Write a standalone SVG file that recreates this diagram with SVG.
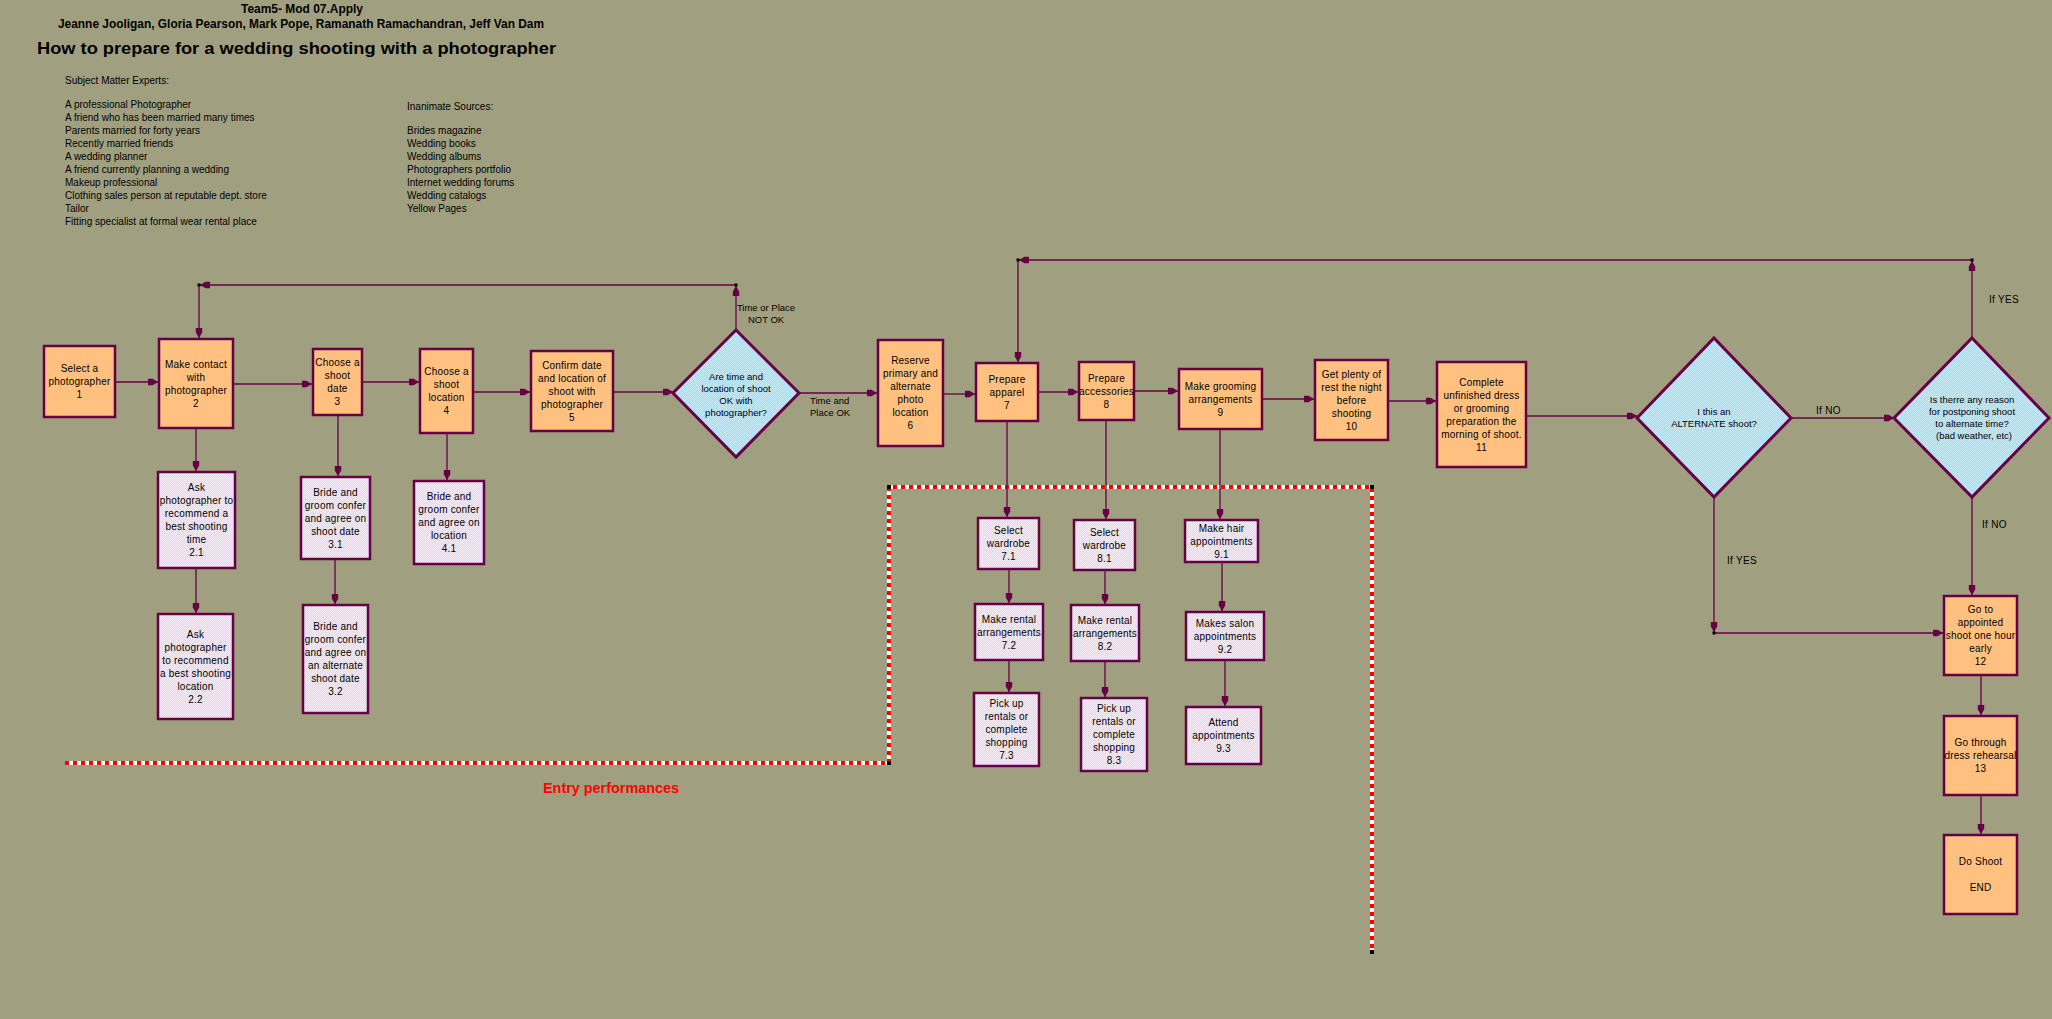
<svg xmlns="http://www.w3.org/2000/svg" width="2052" height="1019" viewBox="0 0 2052 1019">
<style>
text{font-family:"Liberation Sans",Arial,sans-serif;fill:#000}
.hd{font-weight:bold;text-anchor:middle;font-size:12px}
.ttl{font-weight:bold;font-size:17px}
.lst{font-size:10px}
.n rect{fill:#FFC080;stroke:#660044;stroke-width:2.5}
.s rect{fill:url(#lav);stroke:#660044;stroke-width:2.5}
.d polygon{fill:url(#blu);stroke:#660044;stroke-width:3}
.n text,.s text{font-size:10px;text-anchor:middle;letter-spacing:0.2px}
.d text{font-size:9.5px;text-anchor:middle}
.lbl{font-size:9.5px}
.lb2{font-size:10px;letter-spacing:0.3px}
#conn path{stroke:#660044;stroke-width:1.3;fill:none;marker-end:url(#ah)}
.dot{fill:#000}
</style>
<defs>
<marker id="ah" markerUnits="userSpaceOnUse" viewBox="0 -4 10 8" refX="10" refY="0" markerWidth="10" markerHeight="8" orient="auto">
<path d="M0,-3.2 L4.5,-3.2 L10,0 L4.5,3.2 L0,3.2 Z" fill="#660044"/>
</marker>
<pattern id="lav" patternUnits="userSpaceOnUse" width="2" height="2">
<rect width="2" height="2" fill="#E2D0F4"/>
<rect width="1" height="1" fill="#FAF0FF"/>
<rect x="1" y="1" width="1" height="1" fill="#FAF0FF"/>
</pattern>
<pattern id="blu" patternUnits="userSpaceOnUse" width="2" height="2">
<rect width="2" height="2" fill="#A0D8F4"/>
<rect width="1" height="1" fill="#C8EEFF"/>
<rect x="1" y="1" width="1" height="1" fill="#C8EEFF"/>
</pattern>
</defs>
<rect width="2052" height="1019" fill="#A0A080"/>

<g id="header">
<text class="hd" x="302" y="13" textLength="122" lengthAdjust="spacingAndGlyphs">Team5- Mod 07.Apply</text>
<text class="hd" x="301" y="28" textLength="486" lengthAdjust="spacingAndGlyphs">Jeanne Jooligan, Gloria Pearson, Mark Pope, Ramanath Ramachandran, Jeff Van Dam</text>
<text class="ttl" x="37" y="54" textLength="519" lengthAdjust="spacingAndGlyphs">How to prepare for a wedding shooting with a photographer</text>
<text class="lst" x="65" y="84">Subject Matter Experts:</text>
<text class="lst" x="65" y="108">A professional Photographer</text>
<text class="lst" x="65" y="121">A friend who has been married many times</text>
<text class="lst" x="65" y="134">Parents married for forty years</text>
<text class="lst" x="65" y="147">Recently married friends</text>
<text class="lst" x="65" y="160">A wedding planner</text>
<text class="lst" x="65" y="173">A friend currently planning a wedding</text>
<text class="lst" x="65" y="186">Makeup professional</text>
<text class="lst" x="65" y="199">Clothing sales person at reputable dept. store</text>
<text class="lst" x="65" y="212">Tailor</text>
<text class="lst" x="65" y="225">Fitting specialist at formal wear rental place</text>
<text class="lst" x="407" y="110">Inanimate Sources:</text>
<text class="lst" x="407" y="134">Brides magazine</text>
<text class="lst" x="407" y="147">Wedding books</text>
<text class="lst" x="407" y="160">Wedding albums</text>
<text class="lst" x="407" y="173">Photographers portfolio</text>
<text class="lst" x="407" y="186">Internet wedding forums</text>
<text class="lst" x="407" y="199">Wedding catalogs</text>
<text class="lst" x="407" y="212">Yellow Pages</text>
</g>

<g id="entry">
<path d="M65,763 H889 V487 H1372 V952" fill="none" stroke="#FFFFFF" stroke-width="4"/>
<path d="M65,763 H889 V487 H1372 V952" fill="none" stroke="#FF0000" stroke-width="4" stroke-dasharray="4 4"/>
<rect class="dot" x="887" y="761" width="4" height="4"/>
<rect class="dot" x="887" y="485" width="4" height="4"/>
<rect class="dot" x="1370" y="485" width="4" height="4"/>
<rect class="dot" x="1370" y="950" width="4" height="4"/>
<text x="543" y="793" font-size="14" font-weight="bold" style="fill:#FF0000" textLength="136" lengthAdjust="spacingAndGlyphs">Entry performances</text>
</g>

<g id="conn">
<path d="M116,382 H158"/>
<path d="M234,384 H312"/>
<path d="M363,382 H419"/>
<path d="M474,392 H530"/>
<path d="M614,392 H673"/>
<path d="M799,393 H877"/>
<path d="M944,394 H975"/>
<path d="M1039,392 H1078"/>
<path d="M1135,391 H1178"/>
<path d="M1263,399 H1314"/>
<path d="M1389,401 H1436"/>
<path d="M1527,416 H1637"/>
<path d="M1791,418 H1894"/>
<path d="M736,329 V286"/>
<path d="M736,285 H200"/>
<path d="M199,285 V338"/>
<path d="M196,429 V471"/>
<path d="M196,569 V613"/>
<path d="M338,416 V476"/>
<path d="M335,560 V604"/>
<path d="M447,434 V480"/>
<path d="M1007,422 V517"/>
<path d="M1009,570 V603"/>
<path d="M1009,661 V692"/>
<path d="M1106,421 V519"/>
<path d="M1105,571 V604"/>
<path d="M1105,662 V697"/>
<path d="M1220,430 V519"/>
<path d="M1222,563 V611"/>
<path d="M1225,661 V706"/>
<path d="M1972,338 V261"/>
<path d="M1972,260 H1019"/>
<path d="M1018,260 V362"/>
<path d="M1714,497 V632"/>
<path d="M1714,633 H1943"/>
<path d="M1972,497 V595"/>
<path d="M1981,676 V715"/>
<path d="M1981,796 V834"/>
<rect class="dot" x="197.5" y="283.5" width="3" height="3"/>
<rect class="dot" x="734.5" y="283.5" width="3" height="3"/>
<rect class="dot" x="1016.5" y="258.5" width="3" height="3"/>
<rect class="dot" x="1970.5" y="258.5" width="3" height="3"/>
<rect class="dot" x="1712.5" y="631.5" width="3" height="3"/>
<text class="lbl" x="766" y="311" text-anchor="middle">Time or Place</text>
<text class="lbl" x="766" y="323" text-anchor="middle">NOT OK</text>
<text class="lbl" x="810" y="404">Time and</text>
<text class="lbl" x="810" y="416">Place OK</text>
<text class="lb2" x="1816" y="414">If NO</text>
<text class="lb2" x="1989" y="303">If YES</text>
<text class="lb2" x="1727" y="564">If YES</text>
<text class="lb2" x="1982" y="528">If NO</text>
</g>

<g id="n1" class="n"><rect x="44" y="346" width="71" height="71"/><text x="79.5" y="372">Select a<tspan x="79.5" dy="13">photographer</tspan><tspan x="79.5" dy="13">1</tspan></text></g>
<g id="n2" class="n"><rect x="159" y="339" width="74" height="89"/><text x="196" y="367.5">Make contact<tspan x="196" dy="13">with</tspan><tspan x="196" dy="13">photographer</tspan><tspan x="196" dy="13">2</tspan></text></g>
<g id="n3" class="n"><rect x="313" y="349" width="49" height="66"/><text x="337.5" y="366">Choose a<tspan x="337.5" dy="13">shoot</tspan><tspan x="337.5" dy="13">date</tspan><tspan x="337.5" dy="13">3</tspan></text></g>
<g id="n4" class="n"><rect x="420" y="349" width="53" height="84"/><text x="446.5" y="375">Choose a<tspan x="446.5" dy="13">shoot</tspan><tspan x="446.5" dy="13">location</tspan><tspan x="446.5" dy="13">4</tspan></text></g>
<g id="n5" class="n"><rect x="531" y="351" width="82" height="80"/><text x="572" y="368.5">Confirm date<tspan x="572" dy="13">and location of</tspan><tspan x="572" dy="13">shoot with</tspan><tspan x="572" dy="13">photographer</tspan><tspan x="572" dy="13">5</tspan></text></g>
<g id="d1" class="d"><polygon points="736,330 799,393 736,457 673,393"/><text x="736" y="379.5">Are time and<tspan x="736" dy="12">location of shoot</tspan><tspan x="736" dy="12">OK with</tspan><tspan x="736" dy="12">photographer?</tspan></text></g>
<g id="n6" class="n"><rect x="878" y="340" width="65" height="106"/><text x="910.5" y="364">Reserve<tspan x="910.5" dy="13">primary and</tspan><tspan x="910.5" dy="13">alternate</tspan><tspan x="910.5" dy="13">photo</tspan><tspan x="910.5" dy="13">location</tspan><tspan x="910.5" dy="13">6</tspan></text></g>
<g id="n7" class="n"><rect x="976" y="363" width="62" height="58"/><text x="1007" y="382.5">Prepare<tspan x="1007" dy="13">apparel</tspan><tspan x="1007" dy="13">7</tspan></text></g>
<g id="n8" class="n"><rect x="1079" y="362" width="55" height="58"/><text x="1106.5" y="381.5">Prepare<tspan x="1106.5" dy="13">accessories</tspan><tspan x="1106.5" dy="13">8</tspan></text></g>
<g id="n9" class="n"><rect x="1179" y="369" width="83" height="60"/><text x="1220.5" y="389.5">Make grooming<tspan x="1220.5" dy="13">arrangements</tspan><tspan x="1220.5" dy="13">9</tspan></text></g>
<g id="n10" class="n"><rect x="1315" y="360" width="73" height="80"/><text x="1351.5" y="377.5">Get plenty of<tspan x="1351.5" dy="13">rest the night</tspan><tspan x="1351.5" dy="13">before</tspan><tspan x="1351.5" dy="13">shooting</tspan><tspan x="1351.5" dy="13">10</tspan></text></g>
<g id="n11" class="n"><rect x="1437" y="362" width="89" height="105"/><text x="1481.5" y="385.5">Complete<tspan x="1481.5" dy="13">unfinished dress</tspan><tspan x="1481.5" dy="13">or grooming</tspan><tspan x="1481.5" dy="13">preparation the</tspan><tspan x="1481.5" dy="13">morning of shoot.</tspan><tspan x="1481.5" dy="13">11</tspan></text></g>
<g id="dA" class="d"><polygon points="1714,338 1791,418 1714,497 1637,418"/><text x="1714" y="414.5">I this an<tspan x="1714" dy="12">ALTERNATE shoot?</tspan></text></g>
<g id="dB" class="d"><polygon points="1972,338 2049,418 1972,497 1894,418"/><text x="1972" y="402.5">Is therre any reason<tspan x="1972" dy="12">for postponing shoot</tspan><tspan x="1972" dy="12">to alternate time?</tspan><tspan x="1974" dy="12">(bad weather, etc)</tspan></text></g>
<g id="n12" class="n"><rect x="1944" y="596" width="73" height="79"/><text x="1980.5" y="613">Go to<tspan x="1980.5" dy="13">appointed</tspan><tspan x="1980.5" dy="13">shoot one hour</tspan><tspan x="1980.5" dy="13">early</tspan><tspan x="1980.5" dy="13">12</tspan></text></g>
<g id="n13" class="n"><rect x="1944" y="716" width="73" height="79"/><text x="1980.5" y="746">Go through<tspan x="1980.5" dy="13">dress rehearsal</tspan><tspan x="1980.5" dy="13">13</tspan></text></g>
<g id="n14" class="n"><rect x="1944" y="835" width="73" height="79"/><text x="1980.5" y="865">Do Shoot<tspan x="1980.5" dy="26">END</tspan></text></g>
<g id="n2_1" class="s"><rect x="158" y="472" width="77" height="96"/><text x="196.5" y="491">Ask<tspan x="196.5" dy="13">photographer to</tspan><tspan x="196.5" dy="13">recommend a</tspan><tspan x="196.5" dy="13">best shooting</tspan><tspan x="196.5" dy="13">time</tspan><tspan x="196.5" dy="13">2.1</tspan></text></g>
<g id="n2_2" class="s"><rect x="158" y="614" width="75" height="105"/><text x="195.5" y="637.5">Ask<tspan x="195.5" dy="13">photographer</tspan><tspan x="195.5" dy="13">to recommend</tspan><tspan x="195.5" dy="13">a best shooting</tspan><tspan x="195.5" dy="13">location</tspan><tspan x="195.5" dy="13">2.2</tspan></text></g>
<g id="n3_1" class="s"><rect x="301" y="477" width="69" height="82"/><text x="335.5" y="495.5">Bride and<tspan x="335.5" dy="13">groom confer</tspan><tspan x="335.5" dy="13">and agree on</tspan><tspan x="335.5" dy="13">shoot date</tspan><tspan x="335.5" dy="13">3.1</tspan></text></g>
<g id="n3_2" class="s"><rect x="303" y="605" width="65" height="108"/><text x="335.5" y="630">Bride and<tspan x="335.5" dy="13">groom confer</tspan><tspan x="335.5" dy="13">and agree on</tspan><tspan x="335.5" dy="13">an alternate</tspan><tspan x="335.5" dy="13">shoot date</tspan><tspan x="335.5" dy="13">3.2</tspan></text></g>
<g id="n4_1" class="s"><rect x="414" y="481" width="70" height="83"/><text x="449" y="500">Bride and<tspan x="449" dy="13">groom confer</tspan><tspan x="449" dy="13">and agree on</tspan><tspan x="449" dy="13">location</tspan><tspan x="449" dy="13">4.1</tspan></text></g>
<g id="n7_1" class="s"><rect x="978" y="518" width="61" height="51"/><text x="1008.5" y="534">Select<tspan x="1008.5" dy="13">wardrobe</tspan><tspan x="1008.5" dy="13">7.1</tspan></text></g>
<g id="n7_2" class="s"><rect x="975" y="604" width="68" height="56"/><text x="1009" y="622.5">Make rental<tspan x="1009" dy="13">arrangements</tspan><tspan x="1009" dy="13">7.2</tspan></text></g>
<g id="n7_3" class="s"><rect x="974" y="693" width="65" height="73"/><text x="1006.5" y="707">Pick up<tspan x="1006.5" dy="13">rentals or</tspan><tspan x="1006.5" dy="13">complete</tspan><tspan x="1006.5" dy="13">shopping</tspan><tspan x="1006.5" dy="13">7.3</tspan></text></g>
<g id="n8_1" class="s"><rect x="1074" y="520" width="61" height="50"/><text x="1104.5" y="535.5">Select<tspan x="1104.5" dy="13">wardrobe</tspan><tspan x="1104.5" dy="13">8.1</tspan></text></g>
<g id="n8_2" class="s"><rect x="1071" y="605" width="68" height="56"/><text x="1105" y="623.5">Make rental<tspan x="1105" dy="13">arrangements</tspan><tspan x="1105" dy="13">8.2</tspan></text></g>
<g id="n8_3" class="s"><rect x="1081" y="698" width="66" height="73"/><text x="1114" y="712">Pick up<tspan x="1114" dy="13">rentals or</tspan><tspan x="1114" dy="13">complete</tspan><tspan x="1114" dy="13">shopping</tspan><tspan x="1114" dy="13">8.3</tspan></text></g>
<g id="n9_1" class="s"><rect x="1185" y="520" width="73" height="42"/><text x="1221.5" y="531.5">Make hair<tspan x="1221.5" dy="13">appointments</tspan><tspan x="1221.5" dy="13">9.1</tspan></text></g>
<g id="n9_2" class="s"><rect x="1186" y="612" width="78" height="48"/><text x="1225" y="626.5">Makes salon<tspan x="1225" dy="13">appointments</tspan><tspan x="1225" dy="13">9.2</tspan></text></g>
<g id="n9_3" class="s"><rect x="1186" y="707" width="75" height="57"/><text x="1223.5" y="726">Attend<tspan x="1223.5" dy="13">appointments</tspan><tspan x="1223.5" dy="13">9.3</tspan></text></g>
</svg>
